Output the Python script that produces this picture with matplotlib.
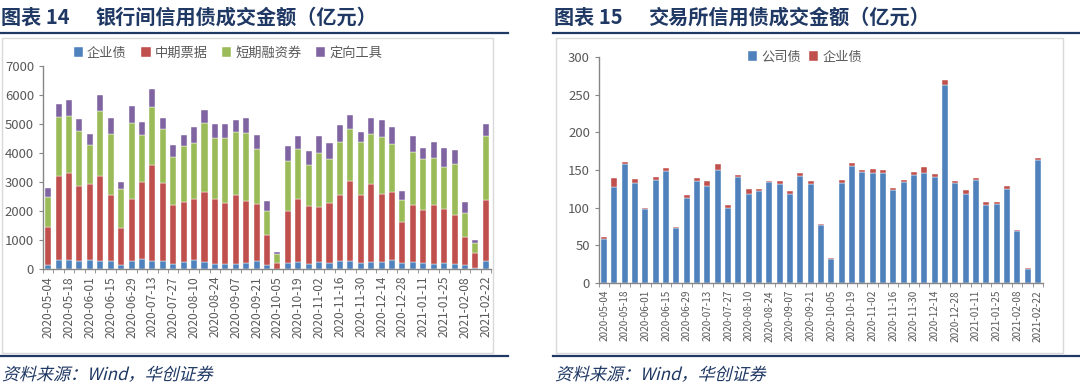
import numpy as np
import pandas as pd
import matplotlib
matplotlib.use("Agg")
import matplotlib.pyplot as plt
from matplotlib.lines import Line2D
from matplotlib.patches import Rectangle, PathPatch
from matplotlib.textpath import TextPath
from matplotlib.font_manager import FontProperties
from matplotlib.transforms import Affine2D

plt.rcParams['font.family'] = ['Noto Sans CJK SC', 'DejaVu Sans']

# weekly dates (categories)
dates = pd.date_range('2020-05-04', '2021-02-22', freq='7D').strftime('%Y-%m-%d').tolist()

# interbank credit bonds (亿元)
ib_qiye = [126, 322, 322, 276, 322, 276, 276, 126, 276, 356, 276, 276, 172, 253, 322,
           253, 172, 172, 172, 207, 276, 126, 10, 207, 253, 172, 253, 207, 276, 276,
           207, 253, 253, 322, 207, 253, 207, 172, 207, 172, 126, 46, 276]
ib_zhongpiao = [1311, 2873, 2988, 2574, 2621, 2919, 2264, 1276, 2126, 2655, 3299, 2678, 2023, 2057, 2103,
                2402, 2253, 2115, 2368, 2149, 1954, 1035, 185, 1804, 2172, 1989, 1873, 2080, 2264, 2770,
                2333, 2678, 2333, 2333, 1414, 1942, 1839, 2023, 1873, 1679, 966, 506, 2115]
ib_duanrong = [1034, 2035, 1966, 1920, 1333, 2242, 2115, 1345, 2644, 1610, 2011, 1862, 1679, 1931, 1931,
               2391, 2081, 2219, 2196, 2345, 1896, 850, 334, 1725, 1701, 1414, 1885, 1495, 1851, 1770,
               1851, 1724, 1954, 1655, 770, 1851, 1736, 1621, 1426, 1770, 839, 345, 2195]
ib_dingxiang = [322, 471, 540, 391, 391, 574, 540, 264, 575, 459, 609, 379, 402, 380, 541,
                425, 505, 505, 390, 494, 495, 345, 69, 505, 460, 494, 575, 574, 575, 506,
                345, 540, 586, 587, 310, 540, 379, 575, 655, 494, 379, 114, 414]

# exchange credit bonds (亿元)
ex_gongsi = [59, 128, 158, 132.5, 97.6, 136.5, 149.3, 72.9, 113, 135, 129, 150.6, 99.8, 141, 118.8,
             122.3, 133.5, 130.8, 117.6, 142.5, 130.8, 77, 32, 132.3, 155.3, 146.7, 146.5, 146.5, 123.6, 134.4,
             143.9, 145.6, 141.2, 263.3, 132.7, 118.6, 137.2, 103.7, 105, 125.3, 68.8, 18.5, 163.6]
ex_qiye = [2, 11.6, 2, 5.5, 1.4, 4.8, 3.5, 1.3, 3.6, 4.6, 6, 7.1, 4.4, 3, 6.2,
           3.1, 1.8, 4.5, 4.7, 3.2, 4.5, 1.8, 1.8, 4.7, 3.4, 3.1, 4.7, 3.3, 2.8, 2.5,
           3.1, 8.8, 3.1, 6.1, 2.6, 5.3, 2.6, 4.4, 3.1, 3.1, 1.3, 1.4, 2.2]

BLUE, RED, GREEN, PURPLE = '#4F81BD', '#C0504D', '#9BBB59', '#8064A2'
NAVY = '#1F3864'
GRAY = '#595959'

W, H = 1080, 391
fig = plt.figure(figsize=(W / 100, H / 100), dpi=100)

def rect(x0, y0, x1, y1):
    return [x0 / W, 1 - y1 / H, (x1 - x0) / W, (y1 - y0) / H]

def fx(x):
    return x / W

def fy(y):
    return 1 - y / H

# slanted source line (the original is set in an italic kai face)
def slanted_text(x, y, s, size):
    tp = TextPath((0, 0), s, size=size, prop=FontProperties(family='Noto Sans CJK SC'))
    tr = Affine2D().skew_deg(14, 0).translate(x, H - y).scale(1 / W, 1 / H) + fig.transFigure
    fig.add_artist(PathPatch(tp, transform=tr, color=NAVY, lw=0))

# frame: titles, rules, boxes, source
for x0, x1, num, title in [(0, 508, '图表 14', '银行间信用债成交金额（亿元）'),
                           (553, 1080, '图表 15', '交易所信用债成交金额（亿元）')]:
    fig.text(fx(x0 + 1), fy(17), num, fontsize=14.5, fontweight='bold', color=NAVY, va='center')
    fig.text(fx(x0 + 95), fy(17), title, fontsize=14.5, fontweight='bold', color=NAVY, va='center')
    fig.add_artist(Line2D([fx(x0), fx(x1)], [fy(33), fy(33)], color=NAVY, lw=1.6))
    fig.add_artist(Line2D([fx(x0), fx(x1)], [fy(356), fy(356)], color=NAVY, lw=1.6))
    slanted_text(x0 + 2, 380, '资料来源：Wind，华创证券', 17)

fig.add_artist(Rectangle((fx(2), fy(353)), fx(491), fy(38) - fy(353), fill=False,
                         ec='#D9D9D9', lw=1))
fig.add_artist(Rectangle((fx(556), fy(353)), fx(507), fy(38) - fy(353), fill=False,
                         ec='#D9D9D9', lw=1))

x = np.arange(len(dates))
w = 0.58

def style_axes(ax, ymax, step, labsize):
    ax.set_xlim(-0.5, len(dates) - 0.5)
    ax.set_ylim(0, ymax)
    ax.set_yticks(np.arange(0, ymax + 1, step))
    for s in ['top', 'right']:
        ax.spines[s].set_visible(False)
    for s in ['left', 'bottom']:
        ax.spines[s].set_color('#868686')
        ax.spines[s].set_linewidth(1)
    ax.set_xticks(x[::2])
    ax.set_xticklabels(dates[::2], rotation=90, fontsize=labsize, color=GRAY)
    ax.set_xticks(np.arange(-0.5, len(dates), 1), minor=True)
    ax.tick_params(axis='x', which='major', length=0, pad=5)
    ax.tick_params(axis='x', which='minor', length=3, color='#868686')
    ax.tick_params(axis='y', length=3, color='#868686', labelsize=9.5, labelcolor=GRAY)
    ax.set_facecolor('none')

leg_kw = dict(frameon=False, fontsize=9.5, handlelength=0.7, handleheight=0.7,
              handletextpad=0.3, labelcolor=GRAY, loc='center',
              bbox_transform=fig.transFigure)

# left chart
ax1 = fig.add_axes(rect(43, 66, 491, 269))
b1 = np.array(ib_qiye)
b2 = b1 + np.array(ib_zhongpiao)
b3 = b2 + np.array(ib_duanrong)
ax1.bar(x, ib_qiye, w, color=BLUE, ec='white', lw=0.3, label='企业债')
ax1.bar(x, ib_zhongpiao, w, bottom=b1, color=RED, ec='white', lw=0.3, label='中期票据')
ax1.bar(x, ib_duanrong, w, bottom=b2, color=GREEN, ec='white', lw=0.3, label='短期融资券')
ax1.bar(x, ib_dingxiang, w, bottom=b3, color=PURPLE, ec='white', lw=0.3, label='定向工具')
style_axes(ax1, 7000, 1000, 8.6)
ax1.legend(ncol=4, columnspacing=1.1, bbox_to_anchor=(fx(228), fy(53)), **leg_kw)

# right chart
ax2 = fig.add_axes(rect(599, 57, 1043, 283))
ax2.bar(x, ex_gongsi, w, color=BLUE, ec='white', lw=0.3, label='公司债')
ax2.bar(x, ex_qiye, w, bottom=ex_gongsi, color=RED, ec='white', lw=0.3, label='企业债')
style_axes(ax2, 300, 50, 7.2)
ax2.legend(ncol=2, columnspacing=0.6, bbox_to_anchor=(fx(805), fy(57)), **leg_kw)

fig.savefig('out.png', dpi=100)
